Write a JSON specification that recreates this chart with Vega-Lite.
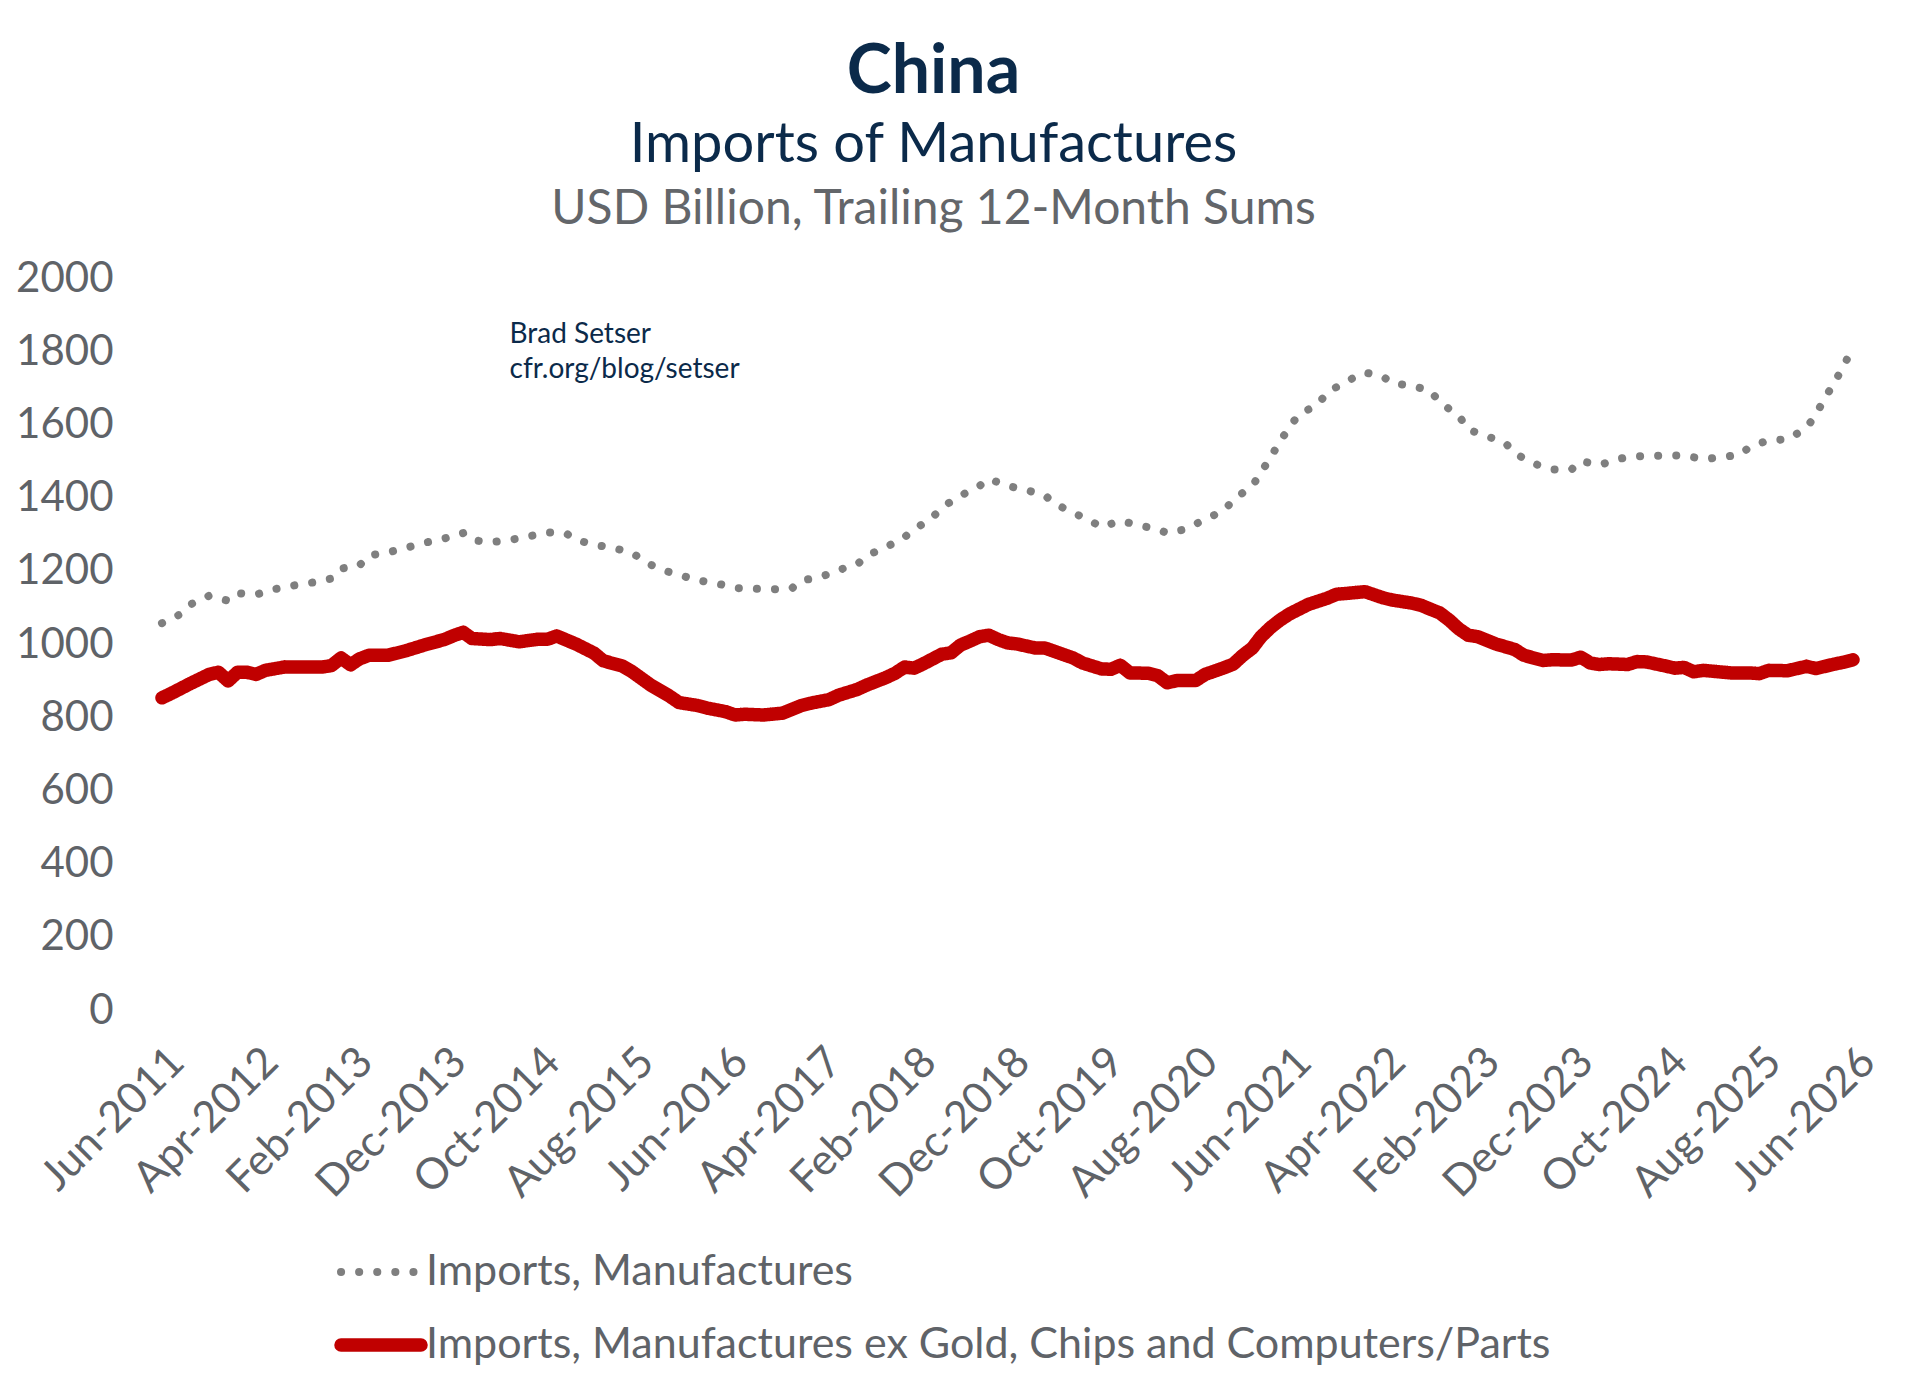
{
  "$schema": "https://vega.github.io/schema/vega-lite/v6.json",
  "width": 1691,
  "height": 732,
  "autosize": {"type": "none"},
  "padding": {"left": 162, "top": 278, "right": 67, "bottom": 383},
  "background": "white",
  "config": {
    "font": "Lato",
    "view": {"stroke": null}
  },
  "title": {
    "text": "China",
    "subtitle": "Imports of Manufactures",
    "anchor": "middle",
    "frame": "group",
    "dx": -74,
    "font": "Lato",
    "fontSize": 68,
    "fontWeight": "bold",
    "color": "#0B2A4A",
    "subtitleFont": "Lato",
    "subtitleFontSize": 56,
    "subtitleColor": "#0B2A4A",
    "subtitlePadding": 11,
    "offset": 12
  },
  "datasets": {
    "series": [
      {"date": "2011-06-01T00:00", "series": "Imports, Manufactures", "value": 1057},
      {"date": "2011-08-01T00:00", "series": "Imports, Manufactures", "value": 1082},
      {"date": "2011-09-01T00:00", "series": "Imports, Manufactures", "value": 1108},
      {"date": "2011-11-01T00:00", "series": "Imports, Manufactures", "value": 1132},
      {"date": "2012-01-01T00:00", "series": "Imports, Manufactures", "value": 1118},
      {"date": "2012-02-01T00:00", "series": "Imports, Manufactures", "value": 1139},
      {"date": "2012-04-01T00:00", "series": "Imports, Manufactures", "value": 1135},
      {"date": "2012-06-01T00:00", "series": "Imports, Manufactures", "value": 1150},
      {"date": "2012-08-01T00:00", "series": "Imports, Manufactures", "value": 1160},
      {"date": "2012-10-01T00:00", "series": "Imports, Manufactures", "value": 1168},
      {"date": "2012-12-01T00:00", "series": "Imports, Manufactures", "value": 1179},
      {"date": "2013-01-01T00:00", "series": "Imports, Manufactures", "value": 1206},
      {"date": "2013-03-01T00:00", "series": "Imports, Manufactures", "value": 1214},
      {"date": "2013-04-01T00:00", "series": "Imports, Manufactures", "value": 1242},
      {"date": "2013-06-01T00:00", "series": "Imports, Manufactures", "value": 1250},
      {"date": "2013-08-01T00:00", "series": "Imports, Manufactures", "value": 1263},
      {"date": "2013-10-01T00:00", "series": "Imports, Manufactures", "value": 1277},
      {"date": "2013-12-01T00:00", "series": "Imports, Manufactures", "value": 1288},
      {"date": "2014-02-01T00:00", "series": "Imports, Manufactures", "value": 1303},
      {"date": "2014-03-01T00:00", "series": "Imports, Manufactures", "value": 1284},
      {"date": "2014-05-01T00:00", "series": "Imports, Manufactures", "value": 1278},
      {"date": "2014-07-01T00:00", "series": "Imports, Manufactures", "value": 1284},
      {"date": "2014-09-01T00:00", "series": "Imports, Manufactures", "value": 1294},
      {"date": "2014-11-01T00:00", "series": "Imports, Manufactures", "value": 1305},
      {"date": "2015-01-01T00:00", "series": "Imports, Manufactures", "value": 1302},
      {"date": "2015-02-01T00:00", "series": "Imports, Manufactures", "value": 1285},
      {"date": "2015-04-01T00:00", "series": "Imports, Manufactures", "value": 1271},
      {"date": "2015-06-01T00:00", "series": "Imports, Manufactures", "value": 1263},
      {"date": "2015-08-01T00:00", "series": "Imports, Manufactures", "value": 1249},
      {"date": "2015-10-01T00:00", "series": "Imports, Manufactures", "value": 1217},
      {"date": "2015-11-01T00:00", "series": "Imports, Manufactures", "value": 1204},
      {"date": "2016-01-01T00:00", "series": "Imports, Manufactures", "value": 1189},
      {"date": "2016-03-01T00:00", "series": "Imports, Manufactures", "value": 1174},
      {"date": "2016-05-01T00:00", "series": "Imports, Manufactures", "value": 1166},
      {"date": "2016-07-01T00:00", "series": "Imports, Manufactures", "value": 1153},
      {"date": "2016-09-01T00:00", "series": "Imports, Manufactures", "value": 1151},
      {"date": "2016-11-01T00:00", "series": "Imports, Manufactures", "value": 1149},
      {"date": "2017-01-01T00:00", "series": "Imports, Manufactures", "value": 1152},
      {"date": "2017-02-01T00:00", "series": "Imports, Manufactures", "value": 1174},
      {"date": "2017-04-01T00:00", "series": "Imports, Manufactures", "value": 1182},
      {"date": "2017-06-01T00:00", "series": "Imports, Manufactures", "value": 1202},
      {"date": "2017-08-01T00:00", "series": "Imports, Manufactures", "value": 1218},
      {"date": "2017-09-01T00:00", "series": "Imports, Manufactures", "value": 1242},
      {"date": "2017-11-01T00:00", "series": "Imports, Manufactures", "value": 1264},
      {"date": "2018-01-01T00:00", "series": "Imports, Manufactures", "value": 1292},
      {"date": "2018-02-01T00:00", "series": "Imports, Manufactures", "value": 1313},
      {"date": "2018-04-01T00:00", "series": "Imports, Manufactures", "value": 1345},
      {"date": "2018-05-01T00:00", "series": "Imports, Manufactures", "value": 1373},
      {"date": "2018-07-01T00:00", "series": "Imports, Manufactures", "value": 1405},
      {"date": "2018-09-01T00:00", "series": "Imports, Manufactures", "value": 1432},
      {"date": "2018-10-01T00:00", "series": "Imports, Manufactures", "value": 1451},
      {"date": "2018-12-01T00:00", "series": "Imports, Manufactures", "value": 1432},
      {"date": "2019-02-01T00:00", "series": "Imports, Manufactures", "value": 1420},
      {"date": "2019-04-01T00:00", "series": "Imports, Manufactures", "value": 1406},
      {"date": "2019-05-01T00:00", "series": "Imports, Manufactures", "value": 1384},
      {"date": "2019-07-01T00:00", "series": "Imports, Manufactures", "value": 1359},
      {"date": "2019-09-01T00:00", "series": "Imports, Manufactures", "value": 1334},
      {"date": "2019-10-01T00:00", "series": "Imports, Manufactures", "value": 1319},
      {"date": "2019-12-01T00:00", "series": "Imports, Manufactures", "value": 1337},
      {"date": "2020-02-01T00:00", "series": "Imports, Manufactures", "value": 1324},
      {"date": "2020-04-01T00:00", "series": "Imports, Manufactures", "value": 1313},
      {"date": "2020-05-01T00:00", "series": "Imports, Manufactures", "value": 1303},
      {"date": "2020-07-01T00:00", "series": "Imports, Manufactures", "value": 1314},
      {"date": "2020-09-01T00:00", "series": "Imports, Manufactures", "value": 1341},
      {"date": "2020-11-01T00:00", "series": "Imports, Manufactures", "value": 1364},
      {"date": "2020-12-01T00:00", "series": "Imports, Manufactures", "value": 1394},
      {"date": "2021-02-01T00:00", "series": "Imports, Manufactures", "value": 1432},
      {"date": "2021-03-01T00:00", "series": "Imports, Manufactures", "value": 1469},
      {"date": "2021-04-01T00:00", "series": "Imports, Manufactures", "value": 1510},
      {"date": "2021-05-01T00:00", "series": "Imports, Manufactures", "value": 1553},
      {"date": "2021-06-01T00:00", "series": "Imports, Manufactures", "value": 1592},
      {"date": "2021-07-01T00:00", "series": "Imports, Manufactures", "value": 1627},
      {"date": "2021-09-01T00:00", "series": "Imports, Manufactures", "value": 1654},
      {"date": "2021-10-01T00:00", "series": "Imports, Manufactures", "value": 1687},
      {"date": "2021-12-01T00:00", "series": "Imports, Manufactures", "value": 1717},
      {"date": "2022-02-01T00:00", "series": "Imports, Manufactures", "value": 1742},
      {"date": "2022-04-01T00:00", "series": "Imports, Manufactures", "value": 1730},
      {"date": "2022-05-01T00:00", "series": "Imports, Manufactures", "value": 1712},
      {"date": "2022-07-01T00:00", "series": "Imports, Manufactures", "value": 1706},
      {"date": "2022-09-01T00:00", "series": "Imports, Manufactures", "value": 1692},
      {"date": "2022-10-01T00:00", "series": "Imports, Manufactures", "value": 1660},
      {"date": "2022-12-01T00:00", "series": "Imports, Manufactures", "value": 1625},
      {"date": "2023-01-01T00:00", "series": "Imports, Manufactures", "value": 1586},
      {"date": "2023-03-01T00:00", "series": "Imports, Manufactures", "value": 1568},
      {"date": "2023-05-01T00:00", "series": "Imports, Manufactures", "value": 1550},
      {"date": "2023-06-01T00:00", "series": "Imports, Manufactures", "value": 1521},
      {"date": "2023-08-01T00:00", "series": "Imports, Manufactures", "value": 1493},
      {"date": "2023-10-01T00:00", "series": "Imports, Manufactures", "value": 1477},
      {"date": "2023-12-01T00:00", "series": "Imports, Manufactures", "value": 1476},
      {"date": "2024-01-01T00:00", "series": "Imports, Manufactures", "value": 1500},
      {"date": "2024-03-01T00:00", "series": "Imports, Manufactures", "value": 1489},
      {"date": "2024-05-01T00:00", "series": "Imports, Manufactures", "value": 1505},
      {"date": "2024-06-01T00:00", "series": "Imports, Manufactures", "value": 1511},
      {"date": "2024-08-01T00:00", "series": "Imports, Manufactures", "value": 1514},
      {"date": "2024-10-01T00:00", "series": "Imports, Manufactures", "value": 1515},
      {"date": "2024-12-01T00:00", "series": "Imports, Manufactures", "value": 1515},
      {"date": "2025-02-01T00:00", "series": "Imports, Manufactures", "value": 1505},
      {"date": "2025-04-01T00:00", "series": "Imports, Manufactures", "value": 1510},
      {"date": "2025-06-01T00:00", "series": "Imports, Manufactures", "value": 1518},
      {"date": "2025-07-01T00:00", "series": "Imports, Manufactures", "value": 1538},
      {"date": "2025-09-01T00:00", "series": "Imports, Manufactures", "value": 1557},
      {"date": "2025-11-01T00:00", "series": "Imports, Manufactures", "value": 1559},
      {"date": "2026-01-01T00:00", "series": "Imports, Manufactures", "value": 1590},
      {"date": "2026-02-01T00:00", "series": "Imports, Manufactures", "value": 1627},
      {"date": "2026-03-01T00:00", "series": "Imports, Manufactures", "value": 1671},
      {"date": "2026-04-01T00:00", "series": "Imports, Manufactures", "value": 1713},
      {"date": "2026-05-01T00:00", "series": "Imports, Manufactures", "value": 1759},
      {"date": "2026-06-01T00:00", "series": "Imports, Manufactures", "value": 1810},
      {"date": "2011-06-01T00:00", "series": "Imports, Manufactures ex Gold, Chips and Computers/Parts", "value": 853},
      {"date": "2011-07-01T00:00", "series": "Imports, Manufactures ex Gold, Chips and Computers/Parts", "value": 865},
      {"date": "2011-09-01T00:00", "series": "Imports, Manufactures ex Gold, Chips and Computers/Parts", "value": 892},
      {"date": "2011-11-01T00:00", "series": "Imports, Manufactures ex Gold, Chips and Computers/Parts", "value": 917},
      {"date": "2011-12-01T00:00", "series": "Imports, Manufactures ex Gold, Chips and Computers/Parts", "value": 923},
      {"date": "2012-01-01T00:00", "series": "Imports, Manufactures ex Gold, Chips and Computers/Parts", "value": 899},
      {"date": "2012-02-01T00:00", "series": "Imports, Manufactures ex Gold, Chips and Computers/Parts", "value": 923},
      {"date": "2012-03-01T00:00", "series": "Imports, Manufactures ex Gold, Chips and Computers/Parts", "value": 923},
      {"date": "2012-04-01T00:00", "series": "Imports, Manufactures ex Gold, Chips and Computers/Parts", "value": 917},
      {"date": "2012-05-01T00:00", "series": "Imports, Manufactures ex Gold, Chips and Computers/Parts", "value": 928},
      {"date": "2012-07-01T00:00", "series": "Imports, Manufactures ex Gold, Chips and Computers/Parts", "value": 937},
      {"date": "2012-09-01T00:00", "series": "Imports, Manufactures ex Gold, Chips and Computers/Parts", "value": 937},
      {"date": "2012-11-01T00:00", "series": "Imports, Manufactures ex Gold, Chips and Computers/Parts", "value": 937},
      {"date": "2012-12-01T00:00", "series": "Imports, Manufactures ex Gold, Chips and Computers/Parts", "value": 941},
      {"date": "2013-01-01T00:00", "series": "Imports, Manufactures ex Gold, Chips and Computers/Parts", "value": 962},
      {"date": "2013-02-01T00:00", "series": "Imports, Manufactures ex Gold, Chips and Computers/Parts", "value": 943},
      {"date": "2013-03-01T00:00", "series": "Imports, Manufactures ex Gold, Chips and Computers/Parts", "value": 959},
      {"date": "2013-04-01T00:00", "series": "Imports, Manufactures ex Gold, Chips and Computers/Parts", "value": 969},
      {"date": "2013-06-01T00:00", "series": "Imports, Manufactures ex Gold, Chips and Computers/Parts", "value": 969},
      {"date": "2013-08-01T00:00", "series": "Imports, Manufactures ex Gold, Chips and Computers/Parts", "value": 982},
      {"date": "2013-10-01T00:00", "series": "Imports, Manufactures ex Gold, Chips and Computers/Parts", "value": 998},
      {"date": "2013-12-01T00:00", "series": "Imports, Manufactures ex Gold, Chips and Computers/Parts", "value": 1012},
      {"date": "2014-01-01T00:00", "series": "Imports, Manufactures ex Gold, Chips and Computers/Parts", "value": 1023},
      {"date": "2014-02-01T00:00", "series": "Imports, Manufactures ex Gold, Chips and Computers/Parts", "value": 1032},
      {"date": "2014-03-01T00:00", "series": "Imports, Manufactures ex Gold, Chips and Computers/Parts", "value": 1015},
      {"date": "2014-05-01T00:00", "series": "Imports, Manufactures ex Gold, Chips and Computers/Parts", "value": 1012},
      {"date": "2014-06-01T00:00", "series": "Imports, Manufactures ex Gold, Chips and Computers/Parts", "value": 1015},
      {"date": "2014-08-01T00:00", "series": "Imports, Manufactures ex Gold, Chips and Computers/Parts", "value": 1006},
      {"date": "2014-10-01T00:00", "series": "Imports, Manufactures ex Gold, Chips and Computers/Parts", "value": 1013},
      {"date": "2014-11-01T00:00", "series": "Imports, Manufactures ex Gold, Chips and Computers/Parts", "value": 1013},
      {"date": "2014-12-01T00:00", "series": "Imports, Manufactures ex Gold, Chips and Computers/Parts", "value": 1022},
      {"date": "2015-02-01T00:00", "series": "Imports, Manufactures ex Gold, Chips and Computers/Parts", "value": 1000},
      {"date": "2015-04-01T00:00", "series": "Imports, Manufactures ex Gold, Chips and Computers/Parts", "value": 975},
      {"date": "2015-05-01T00:00", "series": "Imports, Manufactures ex Gold, Chips and Computers/Parts", "value": 954},
      {"date": "2015-07-01T00:00", "series": "Imports, Manufactures ex Gold, Chips and Computers/Parts", "value": 940},
      {"date": "2015-08-01T00:00", "series": "Imports, Manufactures ex Gold, Chips and Computers/Parts", "value": 925},
      {"date": "2015-10-01T00:00", "series": "Imports, Manufactures ex Gold, Chips and Computers/Parts", "value": 888},
      {"date": "2015-12-01T00:00", "series": "Imports, Manufactures ex Gold, Chips and Computers/Parts", "value": 858},
      {"date": "2016-01-01T00:00", "series": "Imports, Manufactures ex Gold, Chips and Computers/Parts", "value": 840},
      {"date": "2016-03-01T00:00", "series": "Imports, Manufactures ex Gold, Chips and Computers/Parts", "value": 832},
      {"date": "2016-04-01T00:00", "series": "Imports, Manufactures ex Gold, Chips and Computers/Parts", "value": 825},
      {"date": "2016-06-01T00:00", "series": "Imports, Manufactures ex Gold, Chips and Computers/Parts", "value": 815},
      {"date": "2016-07-01T00:00", "series": "Imports, Manufactures ex Gold, Chips and Computers/Parts", "value": 806},
      {"date": "2016-08-01T00:00", "series": "Imports, Manufactures ex Gold, Chips and Computers/Parts", "value": 808},
      {"date": "2016-10-01T00:00", "series": "Imports, Manufactures ex Gold, Chips and Computers/Parts", "value": 806},
      {"date": "2016-12-01T00:00", "series": "Imports, Manufactures ex Gold, Chips and Computers/Parts", "value": 811},
      {"date": "2017-02-01T00:00", "series": "Imports, Manufactures ex Gold, Chips and Computers/Parts", "value": 832},
      {"date": "2017-03-01T00:00", "series": "Imports, Manufactures ex Gold, Chips and Computers/Parts", "value": 838},
      {"date": "2017-05-01T00:00", "series": "Imports, Manufactures ex Gold, Chips and Computers/Parts", "value": 848},
      {"date": "2017-06-01T00:00", "series": "Imports, Manufactures ex Gold, Chips and Computers/Parts", "value": 860},
      {"date": "2017-08-01T00:00", "series": "Imports, Manufactures ex Gold, Chips and Computers/Parts", "value": 876},
      {"date": "2017-09-01T00:00", "series": "Imports, Manufactures ex Gold, Chips and Computers/Parts", "value": 888},
      {"date": "2017-11-01T00:00", "series": "Imports, Manufactures ex Gold, Chips and Computers/Parts", "value": 908},
      {"date": "2017-12-01T00:00", "series": "Imports, Manufactures ex Gold, Chips and Computers/Parts", "value": 920},
      {"date": "2018-01-01T00:00", "series": "Imports, Manufactures ex Gold, Chips and Computers/Parts", "value": 937},
      {"date": "2018-02-01T00:00", "series": "Imports, Manufactures ex Gold, Chips and Computers/Parts", "value": 934},
      {"date": "2018-03-01T00:00", "series": "Imports, Manufactures ex Gold, Chips and Computers/Parts", "value": 945},
      {"date": "2018-05-01T00:00", "series": "Imports, Manufactures ex Gold, Chips and Computers/Parts", "value": 972},
      {"date": "2018-06-01T00:00", "series": "Imports, Manufactures ex Gold, Chips and Computers/Parts", "value": 976},
      {"date": "2018-07-01T00:00", "series": "Imports, Manufactures ex Gold, Chips and Computers/Parts", "value": 997},
      {"date": "2018-08-01T00:00", "series": "Imports, Manufactures ex Gold, Chips and Computers/Parts", "value": 1008},
      {"date": "2018-09-01T00:00", "series": "Imports, Manufactures ex Gold, Chips and Computers/Parts", "value": 1020},
      {"date": "2018-10-01T00:00", "series": "Imports, Manufactures ex Gold, Chips and Computers/Parts", "value": 1024},
      {"date": "2018-11-01T00:00", "series": "Imports, Manufactures ex Gold, Chips and Computers/Parts", "value": 1012},
      {"date": "2018-12-01T00:00", "series": "Imports, Manufactures ex Gold, Chips and Computers/Parts", "value": 1003},
      {"date": "2019-01-01T00:00", "series": "Imports, Manufactures ex Gold, Chips and Computers/Parts", "value": 1000},
      {"date": "2019-03-01T00:00", "series": "Imports, Manufactures ex Gold, Chips and Computers/Parts", "value": 989},
      {"date": "2019-04-01T00:00", "series": "Imports, Manufactures ex Gold, Chips and Computers/Parts", "value": 989},
      {"date": "2019-05-01T00:00", "series": "Imports, Manufactures ex Gold, Chips and Computers/Parts", "value": 980},
      {"date": "2019-07-01T00:00", "series": "Imports, Manufactures ex Gold, Chips and Computers/Parts", "value": 962},
      {"date": "2019-08-01T00:00", "series": "Imports, Manufactures ex Gold, Chips and Computers/Parts", "value": 948},
      {"date": "2019-10-01T00:00", "series": "Imports, Manufactures ex Gold, Chips and Computers/Parts", "value": 932},
      {"date": "2019-11-01T00:00", "series": "Imports, Manufactures ex Gold, Chips and Computers/Parts", "value": 931},
      {"date": "2019-12-01T00:00", "series": "Imports, Manufactures ex Gold, Chips and Computers/Parts", "value": 942},
      {"date": "2020-01-01T00:00", "series": "Imports, Manufactures ex Gold, Chips and Computers/Parts", "value": 921},
      {"date": "2020-03-01T00:00", "series": "Imports, Manufactures ex Gold, Chips and Computers/Parts", "value": 920},
      {"date": "2020-04-01T00:00", "series": "Imports, Manufactures ex Gold, Chips and Computers/Parts", "value": 913},
      {"date": "2020-05-01T00:00", "series": "Imports, Manufactures ex Gold, Chips and Computers/Parts", "value": 894},
      {"date": "2020-06-01T00:00", "series": "Imports, Manufactures ex Gold, Chips and Computers/Parts", "value": 900},
      {"date": "2020-08-01T00:00", "series": "Imports, Manufactures ex Gold, Chips and Computers/Parts", "value": 900},
      {"date": "2020-09-01T00:00", "series": "Imports, Manufactures ex Gold, Chips and Computers/Parts", "value": 917},
      {"date": "2020-11-01T00:00", "series": "Imports, Manufactures ex Gold, Chips and Computers/Parts", "value": 935},
      {"date": "2020-12-01T00:00", "series": "Imports, Manufactures ex Gold, Chips and Computers/Parts", "value": 945},
      {"date": "2021-01-01T00:00", "series": "Imports, Manufactures ex Gold, Chips and Computers/Parts", "value": 969},
      {"date": "2021-02-01T00:00", "series": "Imports, Manufactures ex Gold, Chips and Computers/Parts", "value": 989},
      {"date": "2021-03-01T00:00", "series": "Imports, Manufactures ex Gold, Chips and Computers/Parts", "value": 1020},
      {"date": "2021-04-01T00:00", "series": "Imports, Manufactures ex Gold, Chips and Computers/Parts", "value": 1045},
      {"date": "2021-05-01T00:00", "series": "Imports, Manufactures ex Gold, Chips and Computers/Parts", "value": 1065},
      {"date": "2021-06-01T00:00", "series": "Imports, Manufactures ex Gold, Chips and Computers/Parts", "value": 1082},
      {"date": "2021-08-01T00:00", "series": "Imports, Manufactures ex Gold, Chips and Computers/Parts", "value": 1108},
      {"date": "2021-10-01T00:00", "series": "Imports, Manufactures ex Gold, Chips and Computers/Parts", "value": 1125},
      {"date": "2021-11-01T00:00", "series": "Imports, Manufactures ex Gold, Chips and Computers/Parts", "value": 1136},
      {"date": "2021-12-01T00:00", "series": "Imports, Manufactures ex Gold, Chips and Computers/Parts", "value": 1138},
      {"date": "2022-02-01T00:00", "series": "Imports, Manufactures ex Gold, Chips and Computers/Parts", "value": 1143},
      {"date": "2022-04-01T00:00", "series": "Imports, Manufactures ex Gold, Chips and Computers/Parts", "value": 1126},
      {"date": "2022-05-01T00:00", "series": "Imports, Manufactures ex Gold, Chips and Computers/Parts", "value": 1120},
      {"date": "2022-07-01T00:00", "series": "Imports, Manufactures ex Gold, Chips and Computers/Parts", "value": 1112},
      {"date": "2022-08-01T00:00", "series": "Imports, Manufactures ex Gold, Chips and Computers/Parts", "value": 1106},
      {"date": "2022-09-01T00:00", "series": "Imports, Manufactures ex Gold, Chips and Computers/Parts", "value": 1095},
      {"date": "2022-10-01T00:00", "series": "Imports, Manufactures ex Gold, Chips and Computers/Parts", "value": 1085},
      {"date": "2022-11-01T00:00", "series": "Imports, Manufactures ex Gold, Chips and Computers/Parts", "value": 1065},
      {"date": "2022-12-01T00:00", "series": "Imports, Manufactures ex Gold, Chips and Computers/Parts", "value": 1042},
      {"date": "2023-01-01T00:00", "series": "Imports, Manufactures ex Gold, Chips and Computers/Parts", "value": 1024},
      {"date": "2023-02-01T00:00", "series": "Imports, Manufactures ex Gold, Chips and Computers/Parts", "value": 1020},
      {"date": "2023-04-01T00:00", "series": "Imports, Manufactures ex Gold, Chips and Computers/Parts", "value": 1000},
      {"date": "2023-06-01T00:00", "series": "Imports, Manufactures ex Gold, Chips and Computers/Parts", "value": 985},
      {"date": "2023-07-01T00:00", "series": "Imports, Manufactures ex Gold, Chips and Computers/Parts", "value": 969},
      {"date": "2023-09-01T00:00", "series": "Imports, Manufactures ex Gold, Chips and Computers/Parts", "value": 955},
      {"date": "2023-10-01T00:00", "series": "Imports, Manufactures ex Gold, Chips and Computers/Parts", "value": 957},
      {"date": "2023-12-01T00:00", "series": "Imports, Manufactures ex Gold, Chips and Computers/Parts", "value": 956},
      {"date": "2024-01-01T00:00", "series": "Imports, Manufactures ex Gold, Chips and Computers/Parts", "value": 964},
      {"date": "2024-02-01T00:00", "series": "Imports, Manufactures ex Gold, Chips and Computers/Parts", "value": 948},
      {"date": "2024-03-01T00:00", "series": "Imports, Manufactures ex Gold, Chips and Computers/Parts", "value": 944},
      {"date": "2024-04-01T00:00", "series": "Imports, Manufactures ex Gold, Chips and Computers/Parts", "value": 946},
      {"date": "2024-06-01T00:00", "series": "Imports, Manufactures ex Gold, Chips and Computers/Parts", "value": 944},
      {"date": "2024-07-01T00:00", "series": "Imports, Manufactures ex Gold, Chips and Computers/Parts", "value": 952},
      {"date": "2024-08-01T00:00", "series": "Imports, Manufactures ex Gold, Chips and Computers/Parts", "value": 951},
      {"date": "2024-10-01T00:00", "series": "Imports, Manufactures ex Gold, Chips and Computers/Parts", "value": 940},
      {"date": "2024-11-01T00:00", "series": "Imports, Manufactures ex Gold, Chips and Computers/Parts", "value": 934},
      {"date": "2024-12-01T00:00", "series": "Imports, Manufactures ex Gold, Chips and Computers/Parts", "value": 936},
      {"date": "2025-01-01T00:00", "series": "Imports, Manufactures ex Gold, Chips and Computers/Parts", "value": 924},
      {"date": "2025-02-01T00:00", "series": "Imports, Manufactures ex Gold, Chips and Computers/Parts", "value": 928},
      {"date": "2025-05-01T00:00", "series": "Imports, Manufactures ex Gold, Chips and Computers/Parts", "value": 921},
      {"date": "2025-07-01T00:00", "series": "Imports, Manufactures ex Gold, Chips and Computers/Parts", "value": 921},
      {"date": "2025-08-01T00:00", "series": "Imports, Manufactures ex Gold, Chips and Computers/Parts", "value": 919},
      {"date": "2025-09-01T00:00", "series": "Imports, Manufactures ex Gold, Chips and Computers/Parts", "value": 928},
      {"date": "2025-11-01T00:00", "series": "Imports, Manufactures ex Gold, Chips and Computers/Parts", "value": 927},
      {"date": "2026-01-01T00:00", "series": "Imports, Manufactures ex Gold, Chips and Computers/Parts", "value": 939},
      {"date": "2026-02-01T00:00", "series": "Imports, Manufactures ex Gold, Chips and Computers/Parts", "value": 933},
      {"date": "2026-04-01T00:00", "series": "Imports, Manufactures ex Gold, Chips and Computers/Parts", "value": 945},
      {"date": "2026-05-01T00:00", "series": "Imports, Manufactures ex Gold, Chips and Computers/Parts", "value": 950},
      {"date": "2026-06-01T00:00", "series": "Imports, Manufactures ex Gold, Chips and Computers/Parts", "value": 957}
    ],
    "notes": [
      {"date": "2014-07-01T00:00", "value": 1822, "label": "Brad Setser\ncfr.org/blog/setser"}
    ]
  },
  "resolve": {"axis": {"x": "independent"}},
  "layer": [
    {
      "data": {"name": "series"},
      "mark": {"type": "line", "strokeCap": "round", "strokeJoin": "round", "interpolate": "linear"},
      "encoding": {
        "x": {
          "field": "date",
          "type": "temporal",
          "scale": {"domain": [{"year": 2011, "month": 6, "date": 1}, {"year": 2026, "month": 6, "date": 1}], "nice": false},
          "axis": {
            "orient": "bottom",
            "title": null,
            "values": [
              {"year": 2011, "month": 6, "date": 1},
              {"year": 2012, "month": 4, "date": 1},
              {"year": 2013, "month": 2, "date": 1},
              {"year": 2013, "month": 12, "date": 1},
              {"year": 2014, "month": 10, "date": 1},
              {"year": 2015, "month": 8, "date": 1},
              {"year": 2016, "month": 6, "date": 1},
              {"year": 2017, "month": 4, "date": 1},
              {"year": 2018, "month": 2, "date": 1},
              {"year": 2018, "month": 12, "date": 1},
              {"year": 2019, "month": 10, "date": 1},
              {"year": 2020, "month": 8, "date": 1},
              {"year": 2021, "month": 6, "date": 1},
              {"year": 2022, "month": 4, "date": 1},
              {"year": 2023, "month": 2, "date": 1},
              {"year": 2023, "month": 12, "date": 1},
              {"year": 2024, "month": 10, "date": 1},
              {"year": 2025, "month": 8, "date": 1},
              {"year": 2026, "month": 6, "date": 1}
            ],
            "format": "%b-%Y",
            "labelAngle": -45,
            "labelAlign": "right",
            "labelBaseline": "top",
            "labelFont": "Lato",
            "labelFontSize": 43,
            "labelColor": "#5F6368",
            "labelPadding": 30,
            "labelOverlap": false,
            "labelFlush": false,
            "labelLimit": 0,
            "labelBound": false,
            "ticks": false,
            "domain": false,
            "grid": false
          }
        },
        "y": {
          "field": "value",
          "type": "quantitative",
          "scale": {"domain": [0, 2000], "nice": false},
          "axis": {
            "title": null,
            "values": [0, 200, 400, 600, 800, 1000, 1200, 1400, 1600, 1800, 2000],
            "format": "d",
            "labelFont": "Lato",
            "labelFontSize": 42,
            "labelColor": "#5F6368",
            "labelPadding": 49,
            "labelFlush": false,
            "ticks": false,
            "domain": false,
            "grid": false
          }
        },
        "color": {
          "field": "series",
          "type": "nominal",
          "scale": {
            "domain": ["Imports, Manufactures", "Imports, Manufactures ex Gold, Chips and Computers/Parts"],
            "range": ["#7F7F7F", "#C00000"]
          },
          "legend": {
            "orient": "none",
            "legendX": 172,
            "legendY": 950,
            "direction": "vertical",
            "title": null,
            "symbolType": "stroke",
            "symbolSize": 6400,
            "symbolOpacity": 1,
            "labelFont": "Lato",
            "labelFontSize": 43,
            "labelColor": "#5F6368",
            "labelOffset": -2,
            "labelLimit": 0,
            "rowPadding": 4,
            "encode": {
              "symbols": {"update": {"strokeCap": {"value": "round"}}}
            }
          }
        },
        "strokeDash": {
          "field": "series",
          "type": "nominal",
          "scale": {
            "domain": ["Imports, Manufactures", "Imports, Manufactures ex Gold, Chips and Computers/Parts"],
            "range": [[0.1, 18], [1, 0]]
          }
        },
        "strokeWidth": {
          "field": "series",
          "type": "nominal",
          "scale": {
            "type": "point",
            "padding": 0,
            "domain": ["Imports, Manufactures", "Imports, Manufactures ex Gold, Chips and Computers/Parts"],
            "range": [8, 13.5]
          }
        }
      }
    },
    {
      "data": {"name": "notes"},
      "mark": {"type": "text", "align": "left", "baseline": "alphabetic", "lineBreak": "\n", "font": "Lato", "fontSize": 28, "lineHeight": 35, "color": "#0B2A4A"},
      "encoding": {
        "x": {
          "field": "date",
          "type": "temporal",
          "axis": {
            "orient": "top",
            "title": "USD Billion, Trailing 12-Month Sums",
            "titleFont": "Lato",
            "titleFontSize": 48,
            "titleFontWeight": "normal",
            "titleColor": "#63666A",
            "titleX": 771,
            "titlePadding": 45,
            "labels": false,
            "ticks": false,
            "domain": false,
            "grid": false
          }
        },
        "y": {"field": "value", "type": "quantitative"},
        "text": {"field": "label", "type": "nominal"}
      }
    }
  ]
}
